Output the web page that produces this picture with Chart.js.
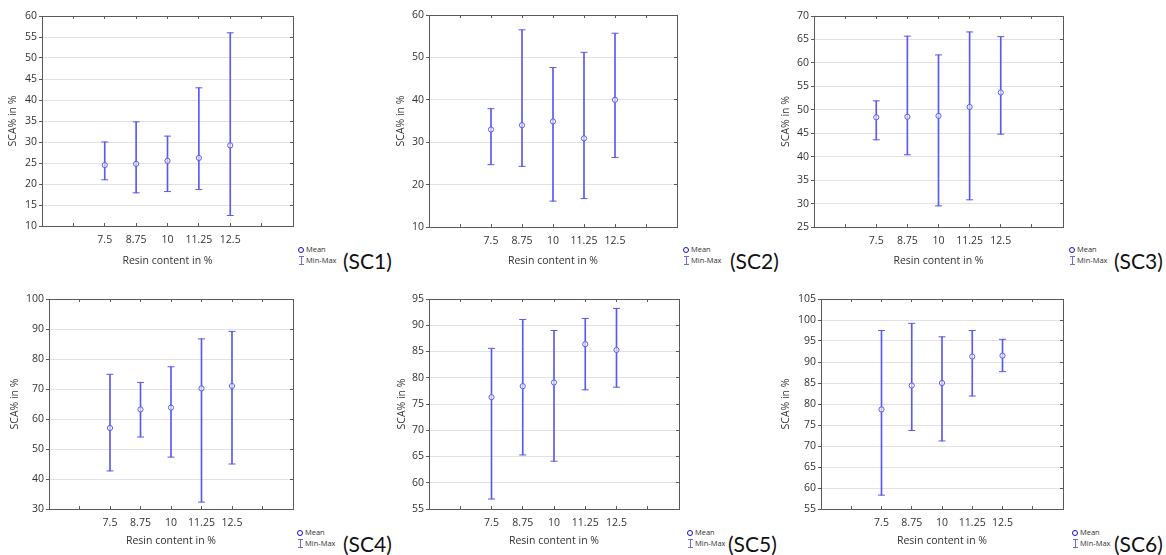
<!DOCTYPE html>
<html>
<head>
<meta charset="utf-8">
<script src="https://cdn.jsdelivr.net/npm/chart.js@4.4.1/dist/chart.umd.min.js"></script>
<style>
  body{margin:0;background:#fff;}
  #page{position:relative;width:1166px;height:555px;overflow:hidden;font-family:"Open Sans",sans-serif;}
  .box{position:absolute;}
  .lg{position:absolute;font-size:7.5px;color:#333;line-height:11px;}
  .lg div{position:relative;padding-left:6px;white-space:nowrap;}
  .dot{position:absolute;left:-2px;top:3px;width:4px;height:4px;border:1.3px solid #1010c8;border-radius:50%;}
  .ibeam{position:absolute;left:-1px;top:1px;width:5px;height:8px;}
  .ibeam:before{content:"";position:absolute;left:2px;top:0;width:1px;height:8px;background:#6a6af0;}
  .ibeam:after{content:"";position:absolute;left:0;top:0;width:5px;height:7px;border-top:1px solid #6a6af0;border-bottom:1px solid #6a6af0;}
  .tag{position:absolute;font-family:Lato,"Open Sans",sans-serif;font-size:21px;color:#111;line-height:24px;}
</style>
</head>
<body>
<div id="page"></div>
<script>
// x axis: five resin contents, with empty slots either side like the original plots
const categories = ['7.5', '8.75', '10', '11.25', '12.5'];
const axisLabels = ['', '', '7.5', '8.75', '10', '11.25', '12.5', '', ''];

const sc1Mean = [24.5, 24.8, 25.5, 26.2, 29.2];
const sc1Min  = [21.0, 17.9, 18.2, 18.7, 12.5];
const sc1Max  = [30.0, 34.8, 31.4, 42.9, 56.0];
const sc1Y    = [10, 60, 5];

const sc2Mean = [33.0, 34.0, 34.9, 30.9, 40.0];
const sc2Min  = [24.7, 24.3, 16.1, 16.7, 26.4];
const sc2Max  = [37.9, 56.5, 47.6, 51.2, 55.7];
const sc2Y    = [10, 60, 10];

const sc3Mean = [48.4, 48.5, 48.7, 50.6, 53.7];
const sc3Min  = [43.6, 40.4, 29.5, 30.8, 44.8];
const sc3Max  = [51.9, 65.7, 61.7, 66.6, 65.6];
const sc3Y    = [25, 70, 5];

const sc4Mean = [57.0, 63.2, 63.8, 70.2, 71.0];
const sc4Min  = [42.7, 54.0, 47.3, 32.3, 45.0];
const sc4Max  = [74.9, 72.2, 77.4, 86.7, 89.2];
const sc4Y    = [30, 100, 10];

const sc5Mean = [76.3, 78.4, 79.1, 86.4, 85.3];
const sc5Min  = [56.9, 65.3, 64.1, 77.7, 78.2];
const sc5Max  = [85.6, 91.1, 89.0, 91.3, 93.2];
const sc5Y    = [55, 95, 5];

const sc6Mean = [78.7, 84.4, 85.0, 91.3, 91.5];
const sc6Min  = [58.3, 73.7, 71.2, 81.9, 87.7];
const sc6Max  = [97.5, 99.2, 96.0, 97.5, 95.4];
const sc6Y    = [55, 105, 5];

const blue = '#5a5af2';
const axisColor = '#5a5a5a';

// where each panel sits on the page (left, top of canvas; plot area edges; y title centre)
const panels = [
    {tag: '(SC1)', mean: sc1Mean, min: sc1Min, max: sc1Max, y: sc1Y, left: 0,   top: 0,   pl: 42,  pt: 16,  pr: 293,  pb: 226, tx: 13, lgx: 300,  tagx: 343},
    {tag: '(SC2)', mean: sc2Mean, min: sc2Min, max: sc2Max, y: sc2Y, left: 390, top: 0,   pl: 429, pt: 15,  pr: 677,  pb: 227, tx: 11, lgx: 685,  tagx: 730},
    {tag: '(SC3)', mean: sc3Mean, min: sc3Min, max: sc3Max, y: sc3Y, left: 776, top: 0,   pl: 814, pt: 16,  pr: 1063, pb: 227, tx: 10, lgx: 1071, tagx: 1114},
    {tag: '(SC4)', mean: sc4Mean, min: sc4Min, max: sc4Max, y: sc4Y, left: 0,   top: 280, pl: 49,  pt: 299, pr: 293,  pb: 509, tx: 15, lgx: 299,  tagx: 343},
    {tag: '(SC5)', mean: sc5Mean, min: sc5Min, max: sc5Max, y: sc5Y, left: 390, top: 280, pl: 429, pt: 299, pr: 679,  pb: 509, tx: 12, lgx: 689,  tagx: 728},
    {tag: '(SC6)', mean: sc6Mean, min: sc6Min, max: sc6Max, y: sc6Y, left: 776, top: 280, pl: 821, pt: 299, pr: 1063, pb: 509, tx: 10, lgx: 1074, tagx: 1114}
];

const panelHeight = 272;
const page = document.querySelector('#page');

function toPoints(values){
    return categories.map((c, i) => ({x: c, y: values[i]}));
}

function drawPanel(p){
    let w = p.pr - p.left + 2;
    let div = document.createElement('div');
    div.className = 'box';
    div.style.left = p.left + 'px';
    div.style.top = p.top + 'px';
    let canvas = document.createElement('canvas');
    canvas.width = w;
    canvas.height = panelHeight;
    canvas.style.width = w + 'px';
    canvas.style.height = panelHeight + 'px';
    div.appendChild(canvas);
    page.appendChild(div);

    let yMin = p.y[0], yMax = p.y[1], yStep = p.y[2];
    let tickFont = {family: '"Open Sans", sans-serif', size: 10.5};
    let titleFont = {family: '"Open Sans", sans-serif', size: 10.5};

    new Chart(canvas, {
        type: 'bar',
        data: {
            labels: axisLabels,
            datasets: [
                {
                    type: 'line',
                    label: 'Mean',
                    data: toPoints(p.mean),
                    showLine: false,
                    pointStyle: 'circle',
                    pointRadius: 2.6,
                    pointBorderWidth: 1,
                    pointBorderColor: blue,
                    pointBackgroundColor: 'rgba(255,255,255,0.6)'
                },
                {
                    type: 'line',
                    label: 'Max',
                    data: toPoints(p.max),
                    showLine: false,
                    pointStyle: 'line',
                    pointRadius: 3.5,
                    pointBorderWidth: 1,
                    pointBorderColor: blue
                },
                {
                    type: 'line',
                    label: 'Min',
                    data: toPoints(p.min),
                    showLine: false,
                    pointStyle: 'line',
                    pointRadius: 3.5,
                    pointBorderWidth: 1,
                    pointBorderColor: blue
                },
                {
                    type: 'bar',
                    label: 'Min-Max',
                    data: categories.map((c, i) => ({x: c, y: [p.min[i], p.max[i]]})),
                    barThickness: 1,
                    backgroundColor: blue,
                    borderWidth: 0
                }
            ]
        },
        options: {
            responsive: false,
            animation: false,
            devicePixelRatio: 1,
            layout: {autoPadding: false, padding: {top: p.pt - p.top, right: 2, left: 0, bottom: 0}},
            plugins: {legend: {display: false}, tooltip: {enabled: false}},
            scales: {
                x: {
                    type: 'category',
                    position: 'bottom',
                    offset: false,
                    grid: {drawOnChartArea: false, offset: false, tickLength: -3, tickColor: axisColor},
                    border: {color: axisColor},
                    ticks: {font: tickFont, color: '#333', padding: 11, maxRotation: 0, autoSkip: false},
                    title: {display: true, text: 'Resin content in %', font: titleFont, color: '#333', padding: {top: 0, bottom: 5}},
                    afterFit: s => {
                        s.height = panelHeight - (p.pb - p.top);
                        s.paddingLeft = 0;
                        s.paddingRight = 0;
                    }
                },
                x2: {
                    type: 'category',
                    labels: axisLabels,
                    position: 'top',
                    offset: false,
                    grid: {drawOnChartArea: false, offset: false, tickLength: -3, tickColor: axisColor},
                    border: {color: axisColor},
                    ticks: {display: false},
                    afterFit: s => {
                        s.height = 0;
                        s.paddingLeft = 0;
                        s.paddingRight = 0;
                    }
                },
                y: {
                    type: 'linear',
                    position: 'left',
                    min: yMin,
                    max: yMax,
                    grid: {color: '#e2e2e2', tickColor: axisColor, tickLength: 3},
                    border: {color: axisColor},
                    ticks: {stepSize: yStep, font: tickFont, color: '#333', padding: 2},
                    title: {display: true, text: 'SCA% in %', font: titleFont, color: '#333', padding: {top: p.tx - 6, bottom: 0}},
                    afterFit: s => { s.width = p.pl - p.left; }
                },
                y2: {
                    type: 'linear',
                    position: 'right',
                    min: yMin,
                    max: yMax,
                    grid: {drawOnChartArea: false, tickLength: -3, tickColor: axisColor},
                    border: {color: axisColor},
                    ticks: {display: false, stepSize: yStep},
                    afterFit: s => { s.width = 0; }
                }
            }
        }
    });

    // legend + panel tag
    let baseY = p.top === 0 ? 244 : 527;
    let lg = document.createElement('div');
    lg.className = 'lg';
    lg.style.left = p.lgx + 'px';
    lg.style.top = baseY + 'px';
    lg.innerHTML = '<div><span class="dot"></span>Mean</div><div><span class="ibeam"></span>Min-Max</div>';
    page.appendChild(lg);

    let tag = document.createElement('div');
    tag.className = 'tag';
    tag.style.left = p.tagx + 'px';
    tag.style.top = (baseY + 5) + 'px';
    tag.textContent = p.tag;
    page.appendChild(tag);
}

panels.forEach(drawPanel);
</script>
</body>
</html>
